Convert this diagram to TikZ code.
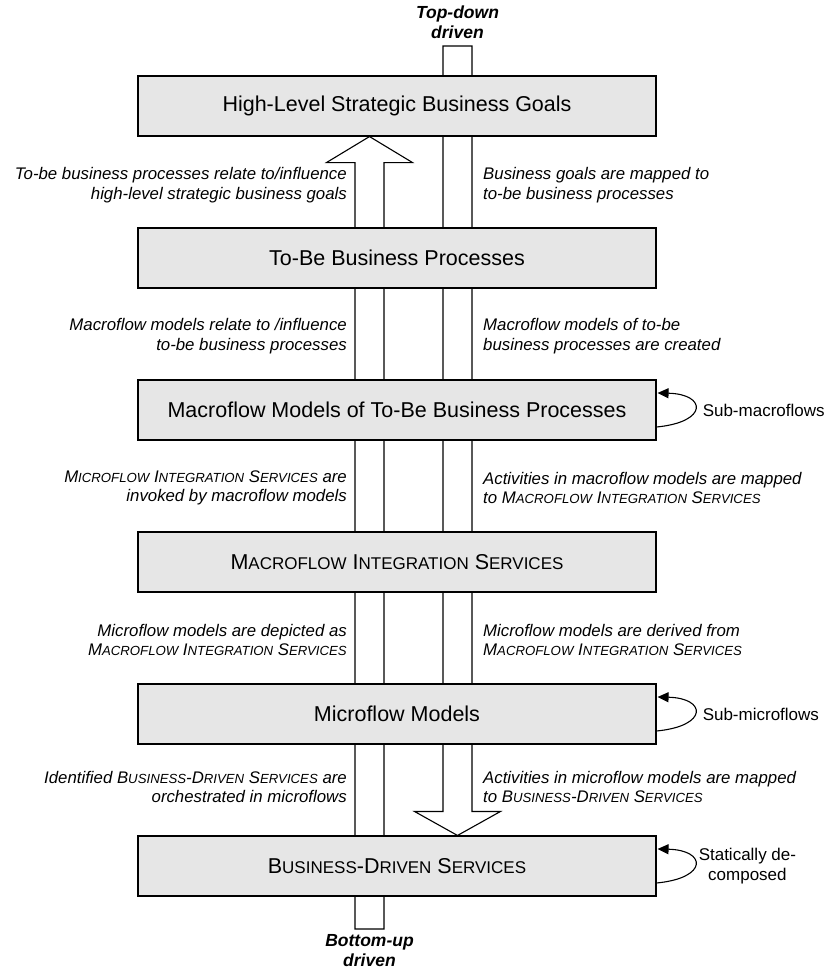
\documentclass[tikz,border=0pt]{standalone}
\usepackage{fontspec}
\setmainfont{Liberation Sans}
\usetikzlibrary{calc,arrows.meta}
\definecolor{boxgray}{RGB}{230,230,230}
% small capitals built from capitals at a reduced size
\newcommand\bsc[2]{#1{\fontsize{17}{20}\selectfont#2}}
\newcommand\lsc[2]{#1{\fontsize{13.2}{16}\selectfont#2}}
\pgfdeclarelayer{bg}
\pgfsetlayers{bg,main}
\tikzset{
  layerbox/.style={draw=black, line width=1.1pt, fill=boxgray, minimum width=518pt,
    minimum height=60pt, inner sep=0pt, font=\fontsize{21.5}{24}\selectfont},
  lefttext/.style={anchor=east, align=right, inner sep=0pt,
    font=\fontsize{16.8}{19.5}\selectfont\itshape},
  righttext/.style={anchor=west, align=left, inner sep=0pt,
    font=\fontsize{16.8}{19.5}\selectfont\itshape},
  drivetext/.style={align=center, inner sep=0pt,
    font=\fontsize{17.5}{20}\selectfont\bfseries\itshape},
  looptext/.style={anchor=west, align=center, inner sep=0pt,
    font=\fontsize{17}{20}\selectfont},
  blockarrow/.style={draw=black, line width=1.1pt, fill=white, line join=miter},
  selfloop/.style={draw=black, line width=1.1pt, -{Triangle[length=11pt,width=10pt]}},
}
\begin{document}
\begin{tikzpicture}[x=1pt, y=-1pt]
\useasboundingbox (0,0) rectangle (829,970);

% the six layers
\node[layerbox] (b1) at (397,106) {High-Level Strategic Business Goals};
\node[layerbox] (b2) at (397,258) {To-Be Business Processes};
\node[layerbox] (b3) at (397,410) {Macroflow Models of To-Be Business Processes};
\node[layerbox] (b4) at (397,562) {\bsc{M}{ACROFLOW} \bsc{I}{NTEGRATION} \bsc{S}{ERVICES}};
\node[layerbox] (b5) at (397,714) {Microflow Models};
\node[layerbox] (b6) at (397,866) {\bsc{B}{USINESS}-\bsc{D}{RIVEN} \bsc{S}{ERVICES}};

% bottom-up and top-down block arrows, behind the layers
\coordinate (upfoot) at (369.5,929);
\coordinate (downfoot) at (457.5,46);
\begin{pgfonlayer}{bg}
  \draw[blockarrow] ($(upfoot)+(-14.5,0)$) -- ($(b1.south -| upfoot)+(-14.5,26)$)
    -- ($(b1.south -| upfoot)+(-43,26)$) -- (b1.south -| upfoot)
    -- ($(b1.south -| upfoot)+(43,26)$) -- ($(b1.south -| upfoot)+(14.5,26)$)
    -- ($(upfoot)+(14.5,0)$) -- cycle;
  \draw[blockarrow] ($(downfoot)+(-14.5,0)$) -- ($(b6.north -| downfoot)+(-14.5,-24)$)
    -- ($(b6.north -| downfoot)+(-43,-24)$) -- (b6.north -| downfoot)
    -- ($(b6.north -| downfoot)+(43,-24)$) -- ($(b6.north -| downfoot)+(14.5,-24)$)
    -- ($(downfoot)+(14.5,0)$) -- cycle;
\end{pgfonlayer}

\node[drivetext] (td) at (457.5,22) {Top-down\\driven};
\node[drivetext] (bu) at (369.5,951) {Bottom-up\\driven};

% relations between neighbouring layers
\node[lefttext] (l1) at (347,185) {To-be business processes relate to/influence\\high-level strategic business goals};
\node[righttext] (r1) at (483,185) {Business goals are mapped to\\to-be business processes};
\node[lefttext] (l2) at (347,336) {Macroflow models relate to /influence\\to-be business processes};
\node[righttext] (r2) at (483,336) {Macroflow models of to-be\\business processes are created};
\node[lefttext] (l3) at (347,488) {\lsc{M}{ICROFLOW} \lsc{I}{NTEGRATION} \lsc{S}{ERVICES} are\\invoked by macroflow models};
\node[righttext] (r3) at (483,488) {Activities in macroflow models are mapped\\to \lsc{M}{ACROFLOW} \lsc{I}{NTEGRATION} \lsc{S}{ERVICES}};
\node[lefttext] (l4) at (347,640) {Microflow models are depicted as\\\lsc{M}{ACROFLOW} \lsc{I}{NTEGRATION} \lsc{S}{ERVICES}};
\node[righttext] (r4) at (483,640) {Microflow models are derived from\\\lsc{M}{ACROFLOW} \lsc{I}{NTEGRATION} \lsc{S}{ERVICES}};
\node[lefttext] (l5) at (347,787) {Identified \lsc{B}{USINESS}-\lsc{D}{RIVEN} \lsc{S}{ERVICES} are\\orchestrated in microflows};
\node[righttext] (r5) at (483,787) {Activities in microflow models are mapped\\to \lsc{B}{USINESS}-\lsc{D}{RIVEN} \lsc{S}{ERVICES}};

% self-decomposition loops
\foreach \b in {b3,b5,b6} {
  \draw[selfloop] ($(\b.east)+(0,17)$) .. controls ($(\b.east)+(52,12)$) and ($(\b.east)+(50,-16)$) .. ($(\b.east)+(1,-17)$);
}
\node[looptext] (s3) at ($(b3.east)+(46,0)$) {Sub-macroflows};
\node[looptext] (s5) at ($(b5.east)+(46,0)$) {Sub-microflows};
\node[looptext] (s6) at ($(b6.east)+(42,0)$) {Statically de-\\composed};
\end{tikzpicture}
\end{document}
